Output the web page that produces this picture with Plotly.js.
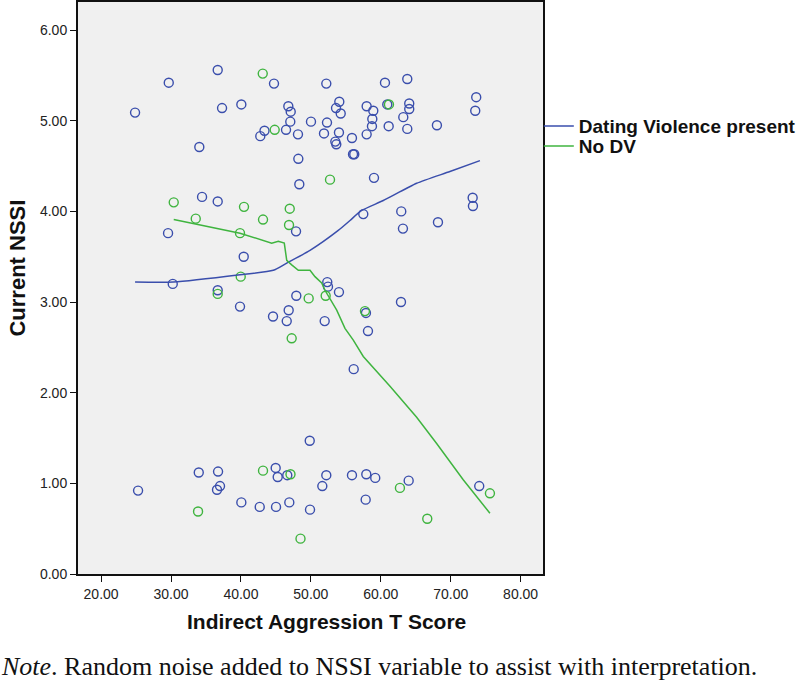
<!DOCTYPE html>
<html>
<head>
<meta charset="utf-8">
<script src="https://cdn.plot.ly/plotly-3.0.1.min.js"></script>
<style>
html,body{margin:0;padding:0;background:#fff;}
#chart{width:800px;height:689px;}
</style>
</head>
<body>
<div id="chart"></div>
<script>
// Dating Violence present: scatter points
const dvX = [24.86,29.68,36.68,44.73,37.30,40.06,46.78,47.12,47.06,46.45,42.77,43.37,48.16,34.05,48.21,48.35,34.44,36.68,29.58,47.88,
  52.21,60.60,63.79,73.65,73.51,50.02,52.31,51.88,54.07,53.60,54.27,54.02,53.50,53.64,55.88,57.98,58.93,58.79,58.74,57.98,
  56.03,56.21,60.93,64.07,64.07,63.22,61.13,63.79,68.03,59.03,73.14,73.18,57.50,62.93,63.17,68.18,40.40,30.25,36.68,39.87,
  44.59,46.83,46.55,47.92,52.35,52.45,54.02,51.98,57.88,58.17,62.89,56.13,
  25.29,33.97,36.73,36.58,37.01,40.06,42.69,44.97,45.26,45.02,46.63,46.92,49.84,52.21,51.64,55.88,57.93,59.21,63.99,74.08,49.88,57.84];
const dvY = [5.09,5.42,5.56,5.41,5.14,5.18,5.16,5.10,4.99,4.90,4.83,4.89,4.85,4.71,4.58,4.30,4.16,4.11,3.76,3.78,
  5.41,5.42,5.46,5.26,5.11,4.99,4.98,4.86,5.21,5.14,5.08,4.87,4.77,4.74,4.81,5.16,5.11,5.02,4.94,4.85,
  4.63,4.63,5.18,5.19,5.13,5.04,4.94,4.91,4.95,4.37,4.15,4.06,3.97,4.00,3.81,3.88,3.50,3.20,3.13,2.95,
  2.84,2.91,2.79,3.07,3.22,3.17,3.11,2.79,2.88,2.68,3.00,2.26,
  0.92,1.12,1.13,0.93,0.97,0.79,0.74,1.17,1.07,0.74,1.09,0.79,1.47,1.09,0.97,1.09,1.10,1.06,1.03,0.97,0.71,0.82];
// No DV: scatter points
const noX = [43.12,44.83,30.39,33.54,40.44,43.16,46.98,46.88,39.87,52.74,61.17,39.97,36.68,47.26,49.69,52.12,57.74,
  43.16,47.09,33.87,48.52,62.74,66.65,75.61];
const noY = [5.52,4.90,4.10,3.92,4.05,3.91,4.03,3.85,3.76,4.35,5.18,3.28,3.09,2.60,3.04,3.07,2.90,
  1.14,1.10,0.69,0.39,0.95,0.61,0.89];
// Loess fit lines
const dvFitX = [24.86,30.34,39.87,44.63,46.55,49.88,53.92,55.60,57.27,60.36,65.13,69.89,74.18];
const dvFitY = [3.22,3.22,3.30,3.35,3.43,3.57,3.79,3.90,4.01,4.12,4.31,4.44,4.56];
const noFitX = [30.39,39.87,44.40,45.35,46.20,46.55,47.26,48.21,49.88,50.59,51.55,52.02,53.70,54.88,56.07,57.50,61.32,65.13,67.99,71.79,75.61];
const noFitY = [3.91,3.76,3.65,3.67,3.65,3.46,3.41,3.35,3.35,3.28,3.21,3.13,2.91,2.71,2.58,2.40,2.07,1.73,1.44,1.04,0.67];

const xTicks = [20,30,40,50,60,70,80];
const yTicks = [0,1,2,3,4,5,6];
const seriesNames = ["Dating Violence present","No DV"];

const BLUE = "#3a4eac";
const GREEN = "#3fb43f";

const traces = [
  {x: dvX, y: dvY, type: "scatter", mode: "markers", showlegend: false, hoverinfo: "skip",
   marker: {symbol: "circle-open", size: 9, color: BLUE, line: {width: 1.4, color: BLUE}}},
  {x: noX, y: noY, type: "scatter", mode: "markers", showlegend: false, hoverinfo: "skip",
   marker: {symbol: "circle-open", size: 9, color: GREEN, line: {width: 1.4, color: GREEN}}},
  {x: dvFitX, y: dvFitY, type: "scatter", mode: "lines", name: seriesNames[0], legend: "legend",
   line: {color: BLUE, width: 1.5, shape: "spline", smoothing: 0.6}},
  {x: noFitX, y: noFitY, type: "scatter", mode: "lines", name: seriesNames[1], legend: "legend2",
   line: {color: GREEN, width: 1.5}}
];

const tickFont = {family: "Liberation Sans, Arial, sans-serif", size: 14, color: "#222"};
const legFont = {family: "Liberation Sans, Arial, sans-serif", size: 19, color: "#111", weight: "bold"};

const layout = {
  width: 800, height: 689,
  margin: {l: 78, r: 257, t: 2, b: 115, pad: 0, autoexpand: false},
  paper_bgcolor: "#ffffff",
  plot_bgcolor: "#f0f0f0",
  showlegend: true,
  legend: {x: 0.991, xanchor: "left", y: 0.783, yanchor: "middle", font: legFont,
    bgcolor: "rgba(0,0,0,0)", borderwidth: 0, itemwidth: 30},
  legend2: {x: 0.991, xanchor: "left", y: 0.748, yanchor: "middle", font: legFont,
    bgcolor: "rgba(0,0,0,0)", borderwidth: 0, itemwidth: 30},
  xaxis: {range: [16.7, 83.2], tickvals: xTicks, ticktext: xTicks.map(v => v.toFixed(2)),
    showgrid: false, zeroline: false, showline: true, linecolor: "#111", linewidth: 2, mirror: true,
    ticks: "outside", ticklen: 6, tickwidth: 1, tickcolor: "#111", tickfont: tickFont},
  yaxis: {range: [0, 6.31], tickvals: yTicks, ticktext: yTicks.map(v => v.toFixed(2)),
    showgrid: false, zeroline: false, showline: true, linecolor: "#111", linewidth: 2, mirror: true,
    ticks: "outside", ticklen: 6, tickwidth: 1, tickcolor: "#111", tickfont: tickFont},
  annotations: [
    {text: "Current NSSI", xref: "paper", yref: "paper", x: -0.13, y: 0.535, xanchor: "center", yanchor: "middle",
     textangle: -90, showarrow: false,
     font: {family: "Liberation Sans, Arial, sans-serif", size: 22, color: "#111", weight: "bold"}},
    {text: "Indirect Aggression T Score", xref: "paper", yref: "paper", x: 0.534, y: -0.083, xanchor: "center", yanchor: "middle",
     showarrow: false,
     font: {family: "Liberation Sans, Arial, sans-serif", size: 21, color: "#111", weight: "bold"}},
    {text: "<i>Note</i>. Random noise added to NSSI variable to assist with interpretation.", xref: "paper", yref: "paper",
     x: -0.17, y: -0.161, xanchor: "left", yanchor: "middle", showarrow: false,
     font: {family: "Liberation Serif, Times New Roman, serif", size: 26, color: "#111"}}
  ]
};

Plotly.newPlot("chart", traces, layout, {displayModeBar: false, staticPlot: true});
</script>
</body>
</html>
